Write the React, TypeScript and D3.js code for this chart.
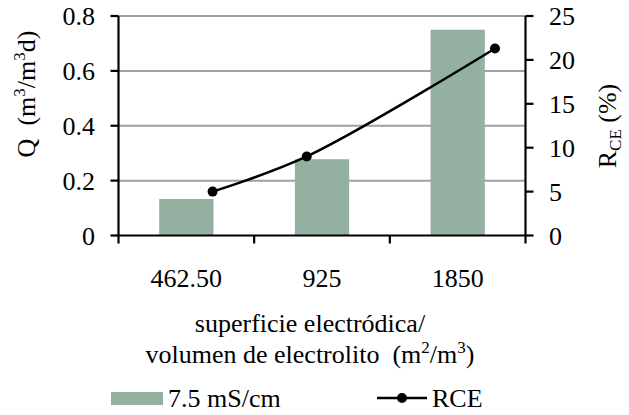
import React from "react";
import * as d3 from "d3";

// Category axis labels and the numeric surface/volume ratios behind them
const categories = ["462.50", "925", "1850"];
const ratioValues = [462.5, 925, 1850];

// Bar series: Q (m3/m3d) at 7.5 mS/cm
const qValues = [0.133, 0.278, 0.75];

// Line series: RCE (%) on the secondary axis
const rceValues = [5.0, 9.0, 21.3];

const leftTicks = [0, 0.2, 0.4, 0.6, 0.8];
const rightTicks = [0, 5, 10, 15, 20, 25];

const W = 629;
const H = 415;
const plot = { left: 118.5, right: 525.5, top: 16, bottom: 235.5 };
const FONT = "'Liberation Serif', 'Times New Roman', serif";
const BAR = "#94b0a0";
const FS = 26;
const SMALL = 17;

export default function App() {
  const x = d3.scaleBand<string>().domain(categories).range([plot.left, plot.right]).padding(0);
  const xRatio = d3.scaleLinear().domain([0, 2000]).range([plot.left, plot.right]);
  const yL = d3.scaleLinear().domain([0, 0.8]).range([plot.bottom, plot.top]);
  const yR = d3.scaleLinear().domain([0, 25]).range([plot.bottom, plot.top]);

  const barW = x.bandwidth() * 0.4;
  const pts: [number, number][] = ratioValues.map((r, i) => [xRatio(r), yR(rceValues[i])]);
  const linePath = d3.line().curve(d3.curveCatmullRom.alpha(0.5))(pts) || "";

  const catEdges = [...categories.map((c) => x(c) as number), plot.right];

  return (
    <svg width={W} height={H} style={{ position: "absolute", left: 0, top: 0 }} fontFamily={FONT}>
      <rect width={W} height={H} fill="#fff" />

      {/* gridlines */}
      {leftTicks.filter((t) => t > 0).map((t) => (
        <line key={t} x1={plot.left} x2={plot.right} y1={yL(t)} y2={yL(t)} stroke="#a0a0a0" strokeWidth={2} />
      ))}

      {/* bars */}
      {categories.map((c, i) => (
        <rect
          key={c}
          x={(x(c) as number) + x.bandwidth() / 2 - barW / 2}
          y={yL(qValues[i])}
          width={barW}
          height={plot.bottom - yL(qValues[i])}
          fill={BAR}
        />
      ))}

      {/* axes */}
      <g stroke="#000" strokeWidth={2.2}>
        <line x1={plot.left} x2={plot.left} y1={plot.top} y2={plot.bottom} />
        <line x1={plot.right} x2={plot.right} y1={plot.top} y2={plot.bottom} />
        <line x1={plot.left} x2={plot.right} y1={plot.bottom} y2={plot.bottom} />
        {leftTicks.map((t) => (
          <line key={"l" + t} x1={plot.left - 8} x2={plot.left} y1={yL(t)} y2={yL(t)} />
        ))}
        {rightTicks.map((t) => (
          <line key={"r" + t} x1={plot.right} x2={plot.right + 8} y1={yR(t)} y2={yR(t)} />
        ))}
        {catEdges.map((e, i) => (
          <line key={"b" + i} x1={e} x2={e} y1={plot.bottom} y2={plot.bottom + 8} />
        ))}
      </g>

      {/* RCE line */}
      <path d={linePath} fill="none" stroke="#000" strokeWidth={2.5} />
      {pts.map((p, i) => (
        <circle key={i} cx={p[0]} cy={p[1]} r={5} fill="#000" />
      ))}

      {/* tick labels */}
      <g fontSize={FS} fill="#000">
        {leftTicks.map((t) => (
          <text key={"lt" + t} x={95} y={yL(t) + 9} textAnchor="end">
            {t === 0 ? "0" : t.toFixed(1)}
          </text>
        ))}
        {rightTicks.map((t) => (
          <text key={"rt" + t} x={549} y={yR(t) + 9} textAnchor="start">
            {t}
          </text>
        ))}
        {categories.map((c) => (
          <text key={"c" + c} x={(x(c) as number) + x.bandwidth() / 2} y={287} textAnchor="middle">
            {c}
          </text>
        ))}
      </g>

      {/* axis titles */}
      <g fontSize={FS} fill="#000">
        <text x={310} y={332} textAnchor="middle">superficie electródica/</text>
        <text x={310} y={363} textAnchor="middle">
          volumen de electrolito{"\u00a0\u00a0"}(m<tspan dy={-10} fontSize={SMALL}>2</tspan>
          <tspan dy={10}>/m</tspan>
          <tspan dy={-10} fontSize={SMALL}>3</tspan>
          <tspan dy={10}>)</tspan>
        </text>
        <text transform="translate(35,94) rotate(-90)" textAnchor="middle">
          Q{"\u00a0\u00a0"}(m<tspan dy={-10} fontSize={SMALL}>3</tspan>
          <tspan dy={10}>/m</tspan>
          <tspan dy={-10} fontSize={SMALL}>3</tspan>
          <tspan dy={10}>d)</tspan>
        </text>
        <text transform="translate(616,126) rotate(-90)" textAnchor="middle">
          R<tspan dy={5} fontSize={SMALL}>CE</tspan>
          <tspan dy={-5}>{"\u00a0"}(%)</tspan>
        </text>
      </g>

      {/* legend */}
      <g fontSize={FS} fill="#000">
        <rect x={111} y={392} width={52} height={13} fill={BAR} />
        <text x={168} y={407}>7.5 mS/cm</text>
        <line x1={377} x2={427} y1={398} y2={398} stroke="#000" strokeWidth={2.5} />
        <circle cx={402} cy={398} r={5} fill="#000" />
        <text x={432} y={407}>RCE</text>
      </g>
    </svg>
  );
}
